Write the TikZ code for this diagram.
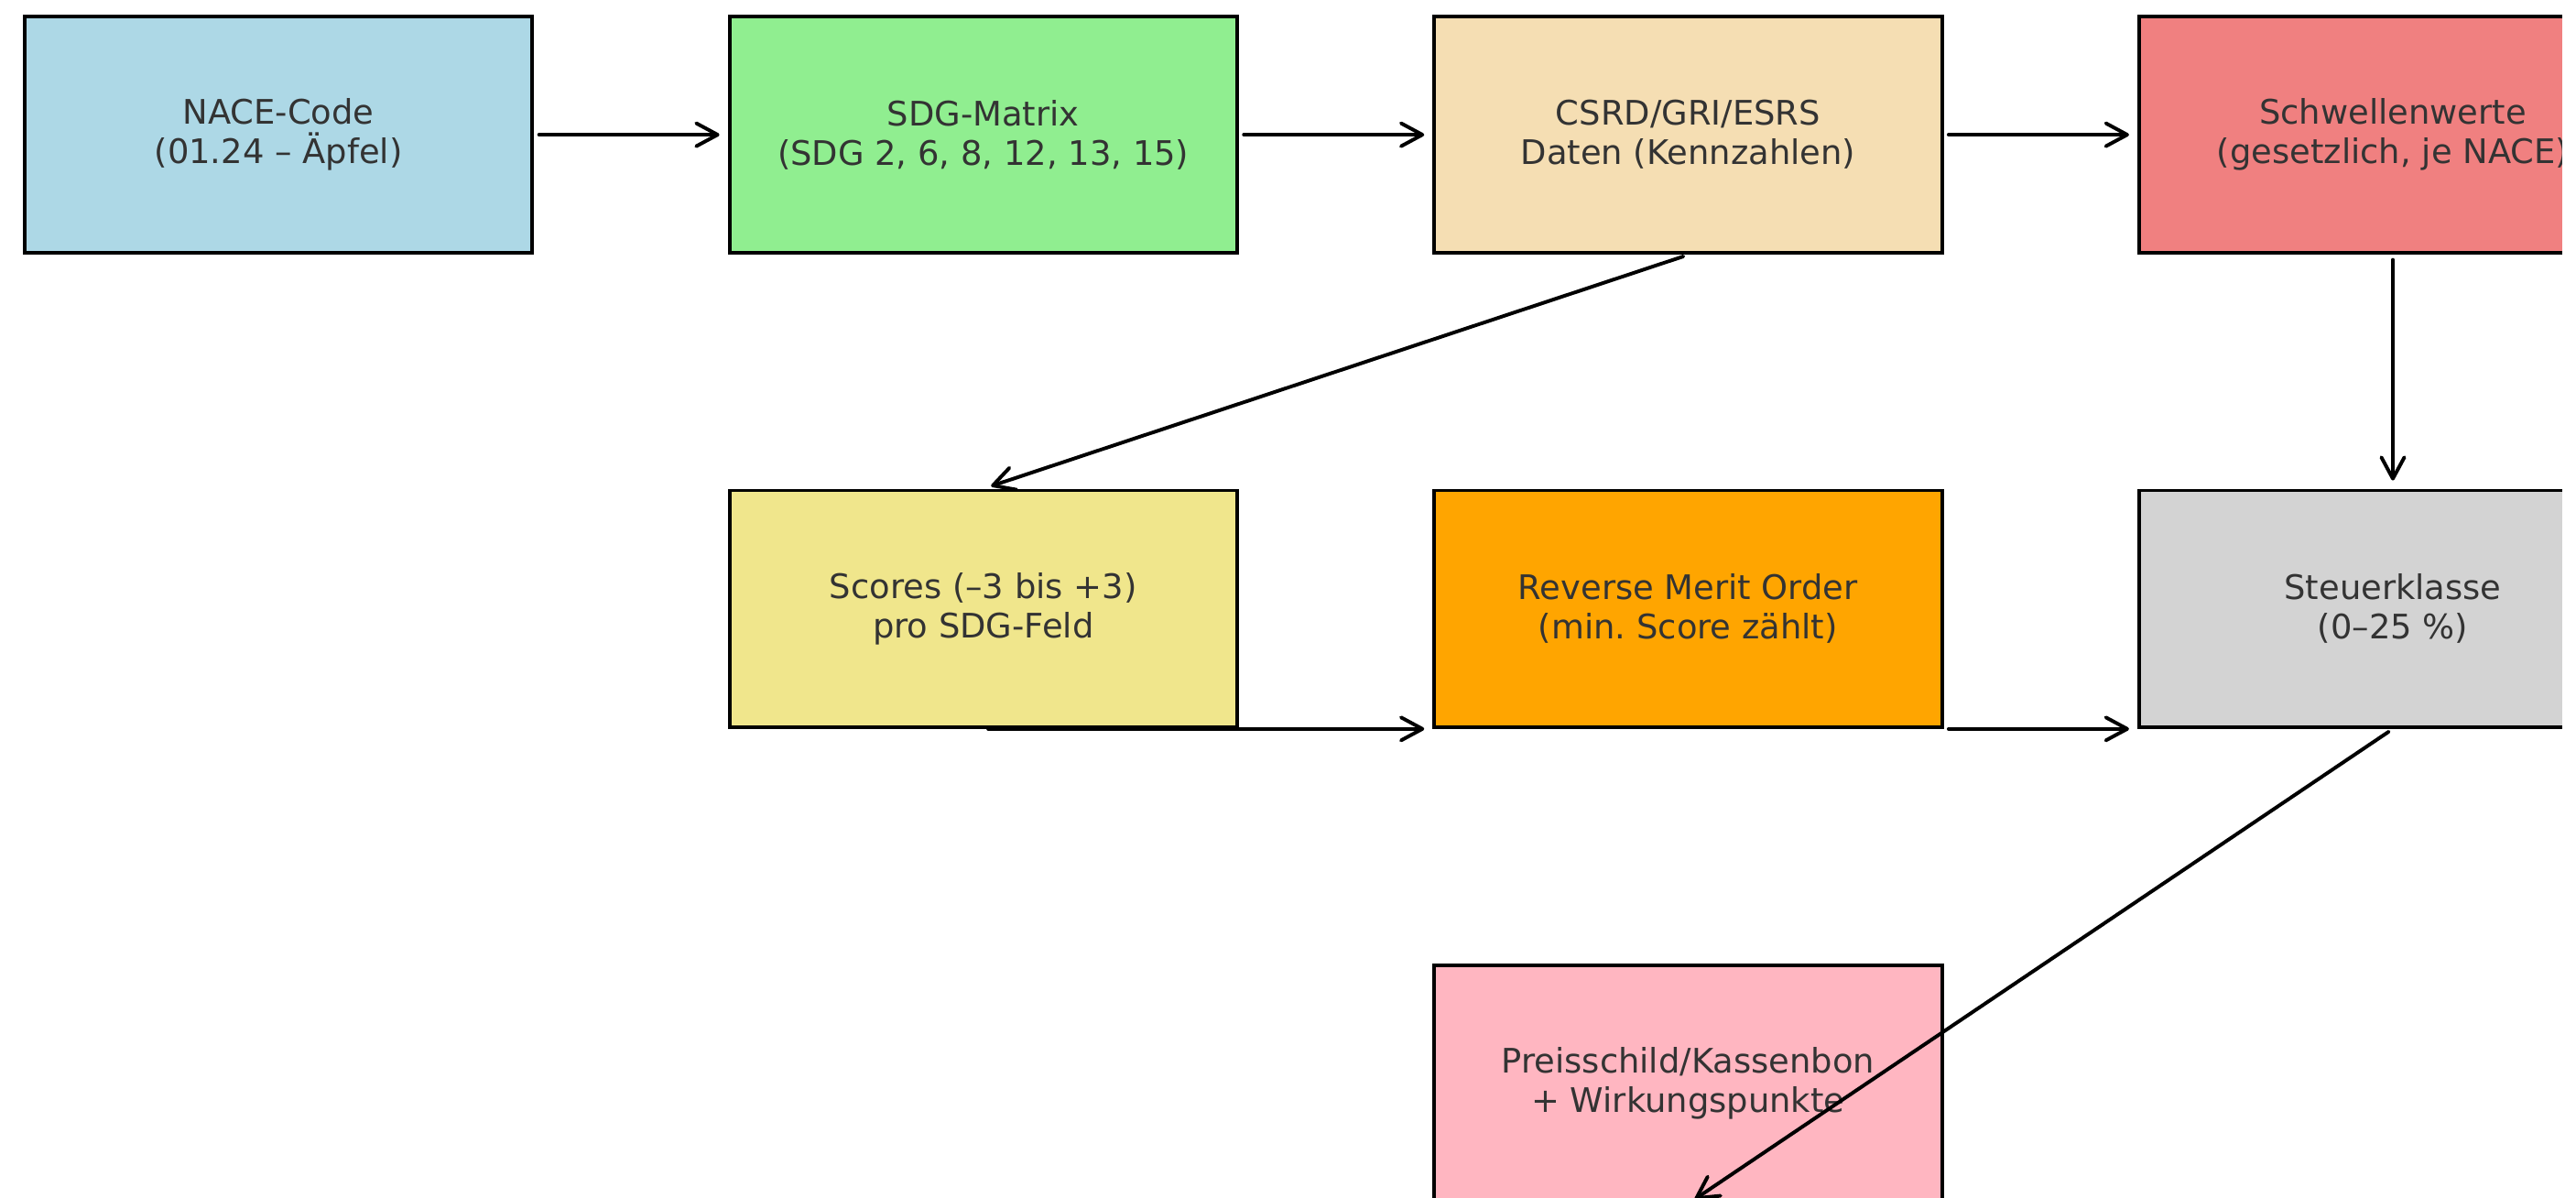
\documentclass[tikz,border=0pt]{standalone}
\usepackage{fontspec}
\setmainfont{DejaVu Sans}
\usepackage{xcolor}
\usetikzlibrary{arrows.meta}
\frenchspacing
\definecolor{txtc}{HTML}{333333}
\definecolor{naceb}{HTML}{ADD8E6}
\definecolor{sdgb}{HTML}{90EE90}
\definecolor{csrdb}{HTML}{F5DEB3}
\definecolor{schwb}{HTML}{F08080}
\definecolor{scoreb}{HTML}{F0E68C}
\definecolor{rmob}{HTML}{FFA500}
\definecolor{steuerb}{HTML}{D3D3D3}
\definecolor{preisb}{HTML}{FFB6C1}
\tikzset{
  ar/.style={-{Straight Barb[length=2.6mm,width=2.8mm,round]},line width=1.25pt,line cap=round,shorten <=0.06cm,shorten >=0.1cm},
  box/.style={draw=black,line width=1.25pt,minimum width=6.18cm,minimum height=2.88cm,align=center,text=txtc,inner sep=0pt,font=\fontsize{11.7}{13.7}\selectfont}
}
\begin{document}
\begin{tikzpicture}
\useasboundingbox (0,0) rectangle (31.36,-14.58);
% first row
\node[box,fill=naceb] (nace) at (3.39,-1.64) {NACE-Code\\(01.24 – Äpfel)};
\node[box,fill=sdgb] (sdg) at (11.97,-1.64) {SDG-Matrix\\(SDG 2, 6, 8, 12, 13, 15)};
\node[box,fill=csrdb] (csrd) at (20.55,-1.64) {CSRD/GRI/ESRS\\Daten (Kennzahlen)};
\node[box,fill=schwb] (schw) at (29.13,-1.64) {Schwellenwerte\\(gesetzlich, je NACE)};
% second row
\node[box,fill=scoreb] (score) at (11.97,-7.41) {Scores (–3 bis +3)\\pro SDG-Feld};
\node[box,fill=rmob] (rmo) at (20.55,-7.41) {Reverse Merit Order\\(min. Score zählt)};
\node[box,fill=steuerb] (steuer) at (29.13,-7.41) {Steuerklasse\\(0–25 \%)};
% third row
\node[box,fill=preisb] (preis) at (20.55,-13.19) {Preisschild/Kassenbon\\+ Wirkungspunkte};
% right margin
\fill[white] (31.19,0.5) rectangle (33,-15);
\draw[ar] (nace) -- (sdg);
\draw[ar] (sdg) -- (csrd);
\draw[ar] (csrd) -- (schw);
\draw[ar] (csrd.south) -- (score.north);
\draw[ar] (schw.south) -- (steuer.north);
\draw[ar] (score.south) -- (rmo.south west);
\draw[ar] (rmo.south east) -- (steuer.south west);
\draw[ar] (steuer.south) -- (preis.south);
\end{tikzpicture}
\end{document}
